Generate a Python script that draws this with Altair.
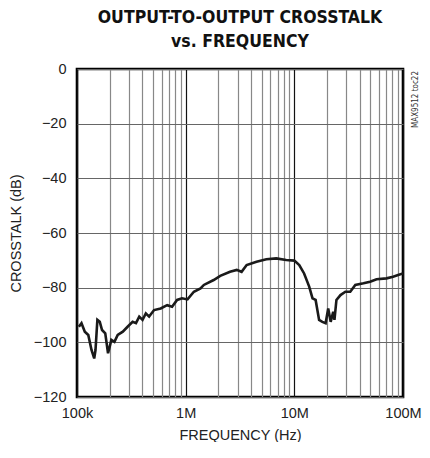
import altair as alt
import pandas as pd

# Curve (frequency in Hz, crosstalk in dB)
freq = [104e3, 110e3, 118e3, 127e3, 136e3, 144e3, 148e3, 154e3, 162e3, 170e3,
        182e3, 193e3, 200e3, 207e3, 221e3, 237e3, 264e3, 292e3, 325e3, 349e3,
        374e3, 401e3, 430e3, 461e3, 512e3, 589e3, 676e3, 750e3, 834e3, 925e3,
        1.04e6, 1.19e6, 1.37e6, 1.47e6, 1.81e6, 2.08e6, 2.56e6, 2.95e6, 3.27e6, 3.64e6,
        4.49e6, 5.53e6, 6.82e6, 8.41e6, 10.0e6, 11.1e6, 12.3e6, 13.7e6, 14.7e6, 15.7e6,
        16.9e6, 18.1e6, 19.4e6, 20.5e6, 21.6e6, 22.8e6, 23.4e6, 24.4e6, 26.6e6, 29.5e6,
        32.7e6, 36.4e6, 43.3e6, 49.8e6, 57.1e6, 70.5e6, 81.1e6, 90.1e6, 100e6]
crosstalk = [-94.3, -93.0, -96.1, -97.3, -102.8, -105.9, -102.8, -91.8, -92.5, -95.5,
             -96.7, -104.0, -101.6, -99.1, -99.8, -97.3, -96.1, -94.3, -92.5, -93.0,
             -90.6, -91.8, -89.4, -90.6, -88.2, -87.6, -86.4, -87.0, -84.5, -83.9,
             -84.3, -81.5, -80.3, -79.0, -77.2, -75.7, -74.2, -73.5, -74.2, -71.7,
             -70.5, -69.6, -69.3, -69.9, -70.1, -71.7, -74.8, -79.6, -83.9, -84.5,
             -91.8, -92.5, -93.0, -87.6, -92.5, -88.8, -91.8, -84.5, -82.7, -81.5,
             -81.5, -79.0, -78.4, -77.8, -76.9, -76.6, -76.0, -75.4, -74.8]

x_grid = [m * 10 ** e for e in range(5, 8) for m in range(1, 10)] + [1e8]
y_ticks = [0, -20, -40, -60, -80, -100, -120]
side_label = ["MAX9512 toc22"]

FONT = "Liberation Sans, Arial, sans-serif"
TFONT = "DejaVu Sans Condensed, DejaVu Sans, sans-serif"

df = pd.DataFrame({"f": freq, "db": crosstalk})

x_axis = alt.Axis(
    values=x_grid, ticks=False, domain=False, grid=True,
    gridColor={"condition": {"test": "indexof([100000,1000000,10000000,100000000], datum.value) >= 0",
                             "value": "#111"}, "value": "#888"},
    gridWidth=1.2,
    labelExpr="datum.value == 100000 ? '100k' : datum.value == 1000000 ? '1M' : datum.value == 10000000 ? '10M' : datum.value == 100000000 ? '100M' : ''",
    labelFont=FONT, labelFontSize=14.5, labelColor="#222", labelPadding=9,
    title="FREQUENCY (Hz)", titleFont=FONT, titleFontSize=14.5, titleFontWeight="normal",
    titleColor="#222", titlePadding=9, labelFlush=False, labelOverlap=False,
)
y_axis = alt.Axis(
    values=y_ticks, ticks=False, domain=False, grid=True, gridColor="#666", gridWidth=1.2,
    labelFont=FONT, labelFontSize=14.5, labelColor="#222", labelPadding=11,
    title="CROSSTALK (dB)", titleFont=FONT, titleFontSize=14.5, titleFontWeight="normal",
    titleColor="#222", titlePadding=10, labelFlush=False,
)

line = alt.Chart(df).mark_line(color="#1a1a1a", strokeWidth=2.6, clip=True).encode(
    x=alt.X("f:Q", scale=alt.Scale(type="log", domain=[1e5, 1e8], nice=False), axis=x_axis),
    y=alt.Y("db:Q", scale=alt.Scale(domain=[-120, 0], nice=False), axis=y_axis),
)

label = alt.Chart(pd.DataFrame({"t": side_label})).mark_text(
    angle=270, align="right", baseline="middle", font=TFONT, fontSize=8, color="#333"
).encode(text="t:N", x=alt.value(339), y=alt.value(2))

chart = alt.layer(line, label).properties(
    width=326, height=328,
    autosize=alt.AutoSizeParams(type="none"),
    padding={"left": 69, "top": 61, "right": 19, "bottom": 45},
    title=alt.TitleParams(
        ["OUTPUT-TO-OUTPUT CROSSTALK", "vs. FREQUENCY"],
        font=TFONT, fontSize=17.5, fontWeight="bold", color="#111",
        anchor="middle", offset=11, lineHeight=24,
    ),
).configure_view(stroke="#000", strokeWidth=2.6)

chart.save("out.html", embed_options={"renderer": "svg", "actions": False})
